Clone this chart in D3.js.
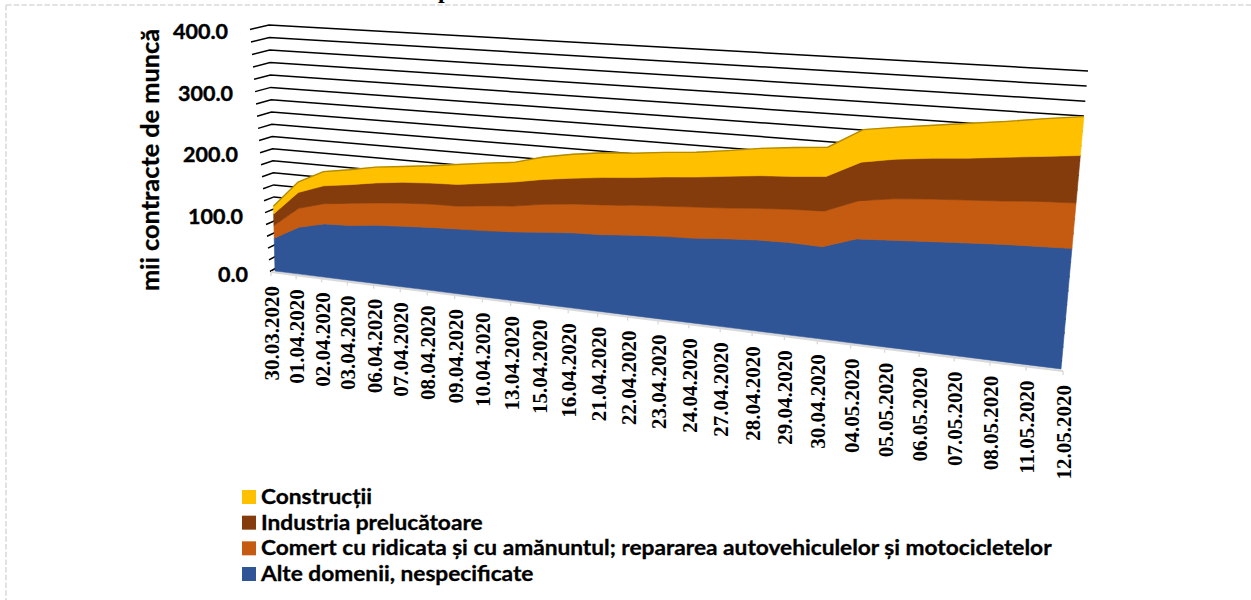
<!DOCTYPE html>
<html>
<head>
<meta charset="utf-8">
<script src="https://cdn.jsdelivr.net/npm/d3@7/dist/d3.min.js"></script>
<style>html,body{margin:0;padding:0;background:#fff}svg{display:block}</style>
</head>
<body>
<svg id="c" width="1251" height="600"></svg>
<script>
const categories = ["30.03.2020","01.04.2020","02.04.2020","03.04.2020","06.04.2020","07.04.2020","08.04.2020","09.04.2020","10.04.2020","13.04.2020","15.04.2020","16.04.2020","21.04.2020","22.04.2020","23.04.2020","24.04.2020","27.04.2020","28.04.2020","29.04.2020","30.04.2020","04.05.2020","05.05.2020","06.05.2020","07.05.2020","08.05.2020","11.05.2020","12.05.2020"];
const alteDomenii = [55,78,88,90,95,98,101,103,105,108,112,116,118,122,125,127,131,134,135,134,150,153,156,159,162,164,166];
const comert = [21,31,33,36,36,37,37,36,39,40,43,44,45,45,45,46,45,46,48,51,54,58,59,59,59,61,61];
const industria = [19,26,29,30,32,33,33,34,35,37,38,39,41,41,43,44,46,47,47,49,54,55,56,57,59,60,63];
const constructii = [13,17,23,24,25,25,27,31,31,30,34,36,37,36,36,36,37,39,41,41,45,44,45,47,48,50,51];
const seriesNames = ["Alte domenii, nespecificate","Comert cu ridicata și cu amănuntul; repararea autovehiculelor și motocicletelor","Industria prelucătoare","Construcții"];
const seriesValues = [alteDomenii, comert, industria, constructii];
const seriesColors = ["#2F5597","#C55A11","#843C0C","#FFC000"];
const edgeColors = ["#2F5597","#C55A11","#843C0C","#B38A00"];
const yTickLabels = [0,100,200,300,400];
const gridValues = d3.range(0,401,20);
const titleFragment = "p";

const svg = d3.select("#c");

// projective map of the unit square onto a quadrilateral (perspective of the 3-D chart)
function quadMap(p00,p10,p11,p01){
  const dx1=p10[0]-p11[0],dx2=p01[0]-p11[0],dx3=p00[0]-p10[0]+p11[0]-p01[0];
  const dy1=p10[1]-p11[1],dy2=p01[1]-p11[1],dy3=p00[1]-p10[1]+p11[1]-p01[1];
  const den=dx1*dy2-dx2*dy1;
  const g=(dx3*dy2-dx2*dy3)/den,h=(dx1*dy3-dx3*dy1)/den;
  const a=p10[0]-p00[0]+g*p10[0],b=p01[0]-p00[0]+h*p01[0],c=p00[0];
  const d=p10[1]-p00[1]+g*p10[1],e=p01[1]-p00[1]+h*p01[1],f=p00[1];
  return (u,v)=>{const w=g*u+h*v+1;return [(a*u+b*v+c)/w,(d*u+e*v+f)/w];};
}
const uScale = d3.scalePoint().domain(categories).range([0,1]);
const vScale = d3.scaleLinear().domain([0,400]).range([0,1]);

const wall  = quadMap([276,268],[1062,361],[1088,71],[269,25]);
const front = quadMap([275,271],[1061,369],[1088,71],[269,25]);
const floor = quadMap([271,272],[1063,371],[1088,71],[269,25]);

// side wall offsets
const sideDx = d3.scaleLinear().domain([0,400]).range([-6,-19]);
const sideDy = d3.scaleLinear().domain([0,400]).range([3.5,4.5]);

// border
const g0 = svg.append("g");
g0.append("line").attr("x1",6).attr("y1",5).attr("x2",1251).attr("y2",5)
  .attr("stroke","#d9d9d9").attr("stroke-width",1.5).attr("stroke-dasharray","5.5 2.2");
g0.append("line").attr("x1",6).attr("y1",5).attr("x2",6).attr("y2",600)
  .attr("stroke","#d9d9d9").attr("stroke-width",1.5).attr("stroke-dasharray","5.5 2.2");
svg.append("text").text(titleFragment).attr("x",438).attr("y",-2)
  .attr("font-family","Liberation Serif").attr("font-weight","bold").attr("font-size",24).attr("fill","#000");

// gridlines
const lineGen = d3.line();
svg.append("g").selectAll("path").data(gridValues).join("path")
  .attr("fill","none").attr("stroke","#000").attr("stroke-width",1.5)
  .attr("d",v=>{
    const a=wall(0,vScale(v)), b=wall(1,vScale(v));
    return lineGen([[a[0]+sideDx(v),a[1]+sideDy(v)],a,b]);
  });

// floor edge and ticks
const base = uScale.domain().map(c=>floor(uScale(c),0));
svg.append("path").attr("d",lineGen(base)).attr("fill","none").attr("stroke","#d9d9d9").attr("stroke-width",2.2);
svg.append("g").selectAll("line").data(base).join("line")
  .attr("x1",d=>d[0]).attr("x2",d=>d[0]).attr("y1",d=>d[1]).attr("y2",d=>d[1]+4)
  .attr("stroke","#d9d9d9").attr("stroke-width",1.3);

// stacked areas
const rows = categories.map((c,i)=>{const o={c};seriesNames.forEach((n,k)=>o[n]=seriesValues[k][i]);return o;});
const stacked = d3.stack().keys(seriesNames)(rows);
const areaG = svg.append("g");
stacked.forEach((s,k)=>{
  const top = s.map(d=>front(uScale(d.data.c),vScale(d[1])));
  const bot = s.map(d=>front(uScale(d.data.c),vScale(d[0]))).reverse();
  areaG.append("path").attr("d",lineGen(top.concat(bot))+"Z").attr("fill",seriesColors[k])
    .attr("stroke",seriesColors[k]).attr("stroke-width",0.6);
  areaG.append("path").attr("d",lineGen(top)).attr("fill","none").attr("stroke",edgeColors[k])
    .attr("stroke-width",k===3?1.4:0.6);
});

// category labels
svg.append("g").selectAll("text").data(categories).join("text")
  .attr("transform",c=>{const p=floor(uScale(c),0);return `translate(${p[0]+8},${p[1]+14}) rotate(-90)`;})
  .attr("text-anchor","end")
  .attr("font-family","Liberation Serif").attr("font-weight","bold").attr("font-size",21).attr("fill","#000")
  .text(c=>c);

// value labels
const labelX = d3.scaleLinear().domain([0,400]).range([248,228]);
const labelY = d3.scaleLinear().domain([0,100,400]).range([282,224,39]);
svg.append("g").selectAll("text").data(yTickLabels).join("text")
  .attr("x",v=>labelX(v)).attr("y",v=>labelY(v)).attr("text-anchor","end")
  .attr("font-family","Lato").attr("font-weight","bold").attr("font-size",21.5).attr("fill","#000")
  .attr("stroke","#000").attr("stroke-width",0.4)
  .text(v=>d3.format(".1f")(v));

// axis title
svg.append("text").attr("transform","translate(159,160) rotate(-90)").attr("text-anchor","middle")
  .attr("font-family","Lato").attr("font-weight","bold").attr("font-size",25.3).attr("fill","#000")
  .attr("stroke","#000").attr("stroke-width",0.3)
  .text("mii contracte de muncă");

// legend
const legendOrder = [3,2,1,0];
const legendY = d3.scalePoint().domain(legendOrder).range([497,574]);
const leg = svg.append("g").selectAll("g").data(legendOrder).join("g");
leg.append("rect").attr("x",242).attr("y",k=>legendY(k)-7).attr("width",14).attr("height",14).attr("fill",k=>seriesColors[k]);
leg.append("text").attr("transform",k=>`translate(261,${legendY(k)+7}) scale(1.135,1)`)
  .attr("font-family","Lato").attr("font-weight","bold").attr("font-size",20).attr("fill","#000")
  .attr("stroke","#000").attr("stroke-width",0.3)
  .text(k=>seriesNames[k]);
</script>
</body>
</html>
